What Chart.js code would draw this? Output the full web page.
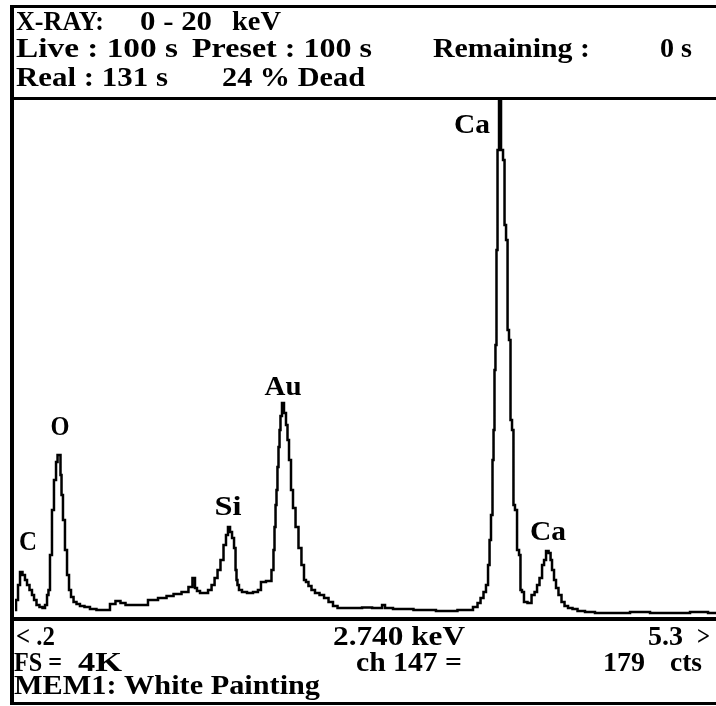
<!DOCTYPE html>
<html>
<head>
<meta charset="utf-8">
<title>X-RAY spectrum – MEM1: White Painting</title>
<script src="https://cdn.jsdelivr.net/npm/chart.js@4/dist/chart.umd.min.js"></script>
<style>
  html, body { margin: 0; padding: 0; background: #fff; }
  #wrap { position: relative; width: 716px; height: 706px; }
</style>
</head>
<body>
<div id="wrap"><canvas id="spectrum" width="716" height="706"></canvas></div>
<script>
// Spectrum samples: energy (keV) and counts per channel
const energyKeV = [
  0.200,0.215,0.229,0.244,0.265,0.280,0.295,0.316,0.331,0.346,
  0.367,0.389,0.411,0.426,0.440,0.447,0.462,0.476,0.491,0.506,
  0.513,0.527,0.535,0.542,0.556,0.571,0.586,0.600,0.615,0.637,
  0.658,0.687,0.724,0.767,0.818,0.869,0.913,0.949,0.986,1.022,
  1.073,1.131,1.204,1.277,1.328,1.379,1.444,1.480,1.502,1.517,
  1.531,1.561,1.590,1.619,1.641,1.663,1.684,1.706,1.728,1.742,
  1.757,1.772,1.786,1.801,1.808,1.815,1.822,1.837,1.866,1.910,
  1.953,1.982,1.997,2.055,2.077,2.084,2.092,2.099,2.106,2.113,
  2.121,2.128,2.135,2.150,2.164,2.179,2.186,2.201,2.215,2.230,
  2.252,2.273,2.295,2.310,2.324,2.346,2.368,2.397,2.434,2.463,
  2.499,2.528,2.565,2.710,2.740,2.856,2.885,2.899,3.001,3.197,
  3.328,3.510,3.554,3.576,3.598,3.619,3.634,3.649,3.656,3.670,
  3.678,3.685,3.692,3.699,3.707,3.714,3.729,3.743,3.758,
  3.765,3.780,3.787,3.801,3.809,3.823,3.830,3.845,3.860,3.874,
  3.881,3.896,3.910,3.947,3.969,3.991,4.005,4.027,4.042,4.056,
  4.071,4.093,4.100,4.114,4.129,4.143,4.165,4.187,4.209,4.238,
  4.274,4.311,4.383,4.456,4.602,4.747,4.893,5.038,5.184,5.300
];
const counts = [
  159,238,356,458,434,395,356,316,277,238,
  198,182,175,198,277,316,592,947,1183,1325,
  1380,1380,1222,1065,868,631,434,316,261,222,
  206,190,182,167,159,159,206,230,214,198,
  198,198,238,253,269,285,301,340,411,332,
  308,293,293,316,356,411,474,553,671,750,
  813,773,726,647,474,395,356,316,301,293,
  301,316,379,387,474,631,813,986,1104,1285,
  1443,1577,1687,1789,1711,1616,1498,1340,1104,962,
  813,647,513,395,379,348,316,293,277,253,
  222,190,175,175,179,175,198,175,167,159,
  151,159,182,214,253,301,356,513,710,907,
  1340,1577,2049,2246,2995,3782,4600,3782,3703,
  3191,3073,2364,2286,1655,1577,986,947,631,592,
  316,301,222,214,277,301,356,411,513,553,
  624,608,553,474,395,332,277,222,190,175,
  167,151,143,135,135,143,135,135,143,135
];

// Identified lines
const peakNames  = ['C', 'O', 'Si', 'Au', 'Ca', 'Ca'];
const peakKeV    = [0.244, 0.520, 1.757, 2.150, 3.729, 4.071];
const peakCounts = [458, 1380, 813, 1789, 4600, 624];

// Display window
const windowKeV = [0.2, 5.3];
const fullScaleCounts = 4096;
const countOffset = 80;

// Label placement (pixels): horizontal shift, gap above peak, drawn width
const peakLabelStyle = [
  { dx: 7,  gap: 22, w: 18 },
  { dx: 1,  gap: 20, w: 19 },
  { dx: -1, gap: 12, w: 27 },
  { dx: 0,  gap: 8,  w: 37 },
  { right: -10, top: 33, w: 36 },
  { dx: 1,  gap: 11, w: 36 }
];

const FONT = 'bold 25px "Liberation Serif", "DejaVu Serif", serif';

// Header / footer text runs: [text, x0, x1, baseline]
const headerRuns = [
  ['X-RAY:', 16, 104, 30], ['0 - 20', 140, 212, 30], ['keV', 232, 281, 30],
  ['Live : 100 s', 16, 178, 57], ['Preset : 100 s', 192, 372, 57],
  ['Remaining :', 433, 590, 57], ['0 s', 660, 692, 57],
  ['Real : 131 s', 16, 168, 86], ['24 % Dead', 222, 365, 86]
];
const footerRuns = [
  ['< .2', 16, 55, 645], ['2.740 keV', 333, 465, 645], ['5.3', 648, 683, 645], ['>', 697, 710, 645],
  ['FS =', 14, 62, 671], ['4K', 78, 122, 671], ['ch 147 =', 356, 462, 671],
  ['179', 603, 645, 671], ['cts', 670, 702, 671],
  ['MEM1: White Painting', 14, 320, 694]
];

function fitText(c, str, x0, x1, base) {
  c.font = FONT;
  const w = c.measureText(str).width;
  c.save();
  c.translate(x0, base);
  c.scale((x1 - x0) / w, 1.08);
  c.fillText(str, 0, 0);
  c.restore();
}

const screenFrame = {
  id: 'screenFrame',
  afterDraw(chart) {
    const c = chart.ctx;
    const xs = chart.scales.x, ys = chart.scales.y;
    c.save();
    c.fillStyle = '#000';
    // frame rules
    c.fillRect(10, 5, 706, 3);
    c.fillRect(10, 5, 4, 700);
    c.fillRect(10, 97, 706, 3);
    c.fillRect(10, 617, 706, 4);
    c.fillRect(10, 702, 706, 3);
    c.textBaseline = 'alphabetic';
    c.textAlign = 'left';
    headerRuns.concat(footerRuns).forEach(r => fitText(c, r[0], r[1], r[2], r[3]));
    // element labels
    peakNames.forEach((name, i) => {
      const st = peakLabelStyle[i];
      const px = xs.getPixelForValue(peakKeV[i]);
      let x0, base;
      if (st.right !== undefined) {
        x0 = px + st.right - st.w;
        base = chart.chartArea.top + st.top;
      } else {
        const py = ys.getPixelForValue(peakCounts[i]);
        x0 = px + st.dx - st.w / 2;
        base = py - st.gap;
      }
      fitText(c, name, x0, x0 + st.w, base);
    });
    c.restore();
  }
};

new Chart(document.getElementById('spectrum'), {
  type: 'line',
  data: {
    datasets: [{
      data: energyKeV.map((e, i) => ({ x: e, y: counts[i] })),
      borderColor: '#000',
      borderWidth: 2.5,
      pointRadius: 0,
      stepped: 'middle',
      fill: false
    }]
  },
  options: {
    responsive: false,
    animation: false,
    devicePixelRatio: 1,
    events: [],
    layout: { padding: { left: 15, right: 0, top: 100, bottom: 86 } },
    plugins: { legend: { display: false }, tooltip: { enabled: false } },
    scales: {
      x: { type: 'linear', min: windowKeV[0], max: windowKeV[1], display: false },
      y: { min: countOffset, max: countOffset + fullScaleCounts, display: false }
    }
  },
  plugins: [screenFrame]
});
</script>
</body>
</html>
